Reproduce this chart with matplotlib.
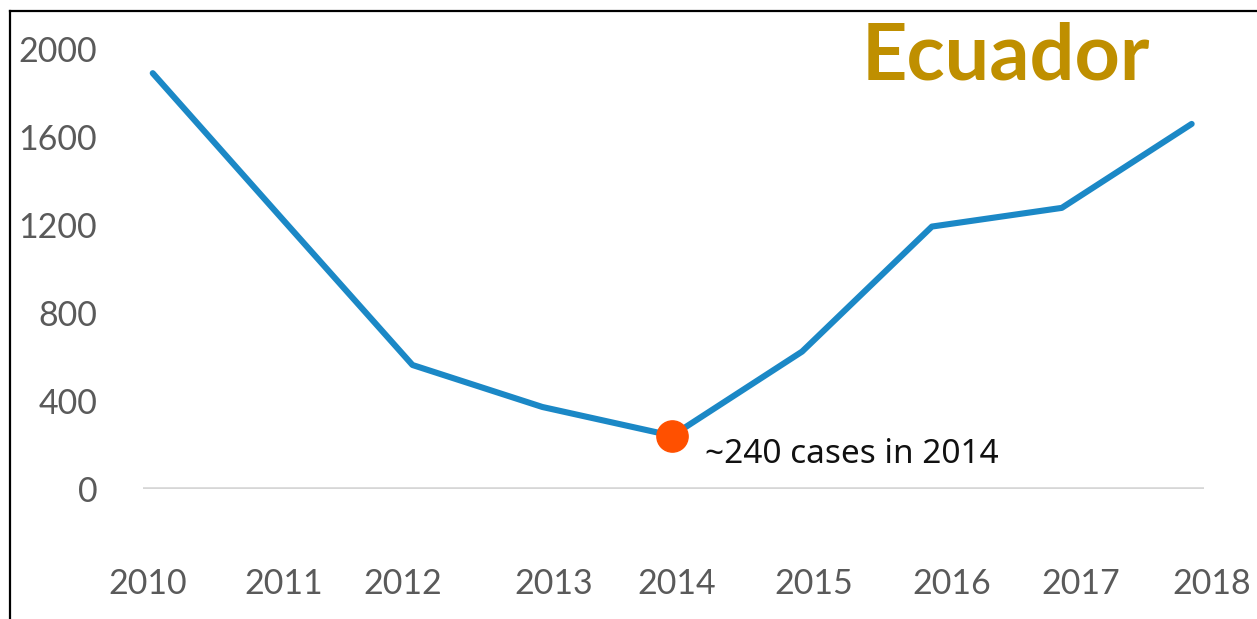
import matplotlib
matplotlib.use("Agg")
import matplotlib.pyplot as plt
from matplotlib.lines import Line2D
from matplotlib.transforms import ScaledTranslation

# Reported cases per year
years = [2010, 2011, 2012, 2013, 2014, 2015, 2016, 2017, 2018]
cases = [1890, 1225, 562, 371, 240, 623, 1192, 1277, 1659]
year_labels = ["2010", "2011", "2012", "2013", "2014", "2015", "2016", "2017", "2018"]
y_ticks = [0, 400, 800, 1200, 1600, 2000]

highlight_year = 2014
highlight_value = 240
title_text = "Ecuador"
note_text = "~240 cases in 2014"

# horizontal nudges (px) applied to the year labels
label_shift_px = [-5, 1, -10, 11, 4, 12, 20, 19, 20]

W, H, DPI = 1257, 619, 100
fig = plt.figure(figsize=(W / DPI, H / DPI), dpi=DPI)
fig.patch.set_facecolor("white")

ax = fig.add_axes([143 / W, 1 - 488.5 / H, (1204 - 143) / W, (488.5 - 49) / H])
ax.set_facecolor("white")

line_color = "#1B88C6"
dot_color = "#FF5000"
tick_color = "#5A5A5A"
tick_font = ["Lato", "DejaVu Sans"]

ax.plot(years, cases, color=line_color, lw=4.4, solid_capstyle="round",
        solid_joinstyle="round", clip_on=False, zorder=3)
ax.plot([highlight_year], [highlight_value], "o", color=dot_color, ms=22.5,
        mec=dot_color, clip_on=False, zorder=4)

ax.axhline(0, color="#D6D6D6", lw=2.6, zorder=1)

ax.set_xlim(2009.925, 2018.095)
ax.set_ylim(0, 2000)

for s in ax.spines.values():
    s.set_visible(False)

ax.set_yticks(y_ticks)
ax.set_yticklabels([str(v) for v in y_ticks])
ax.set_xticks(years)
ax.set_xticklabels(year_labels)
ax.tick_params(axis="both", length=0, colors=tick_color)
ax.tick_params(axis="y", pad=33)
ax.tick_params(axis="x", pad=57)
for lbl in ax.get_yticklabels() + ax.get_xticklabels():
    lbl.set_fontfamily(tick_font)
    lbl.set_fontweight("normal")
    lbl.set_fontsize(24.5)
    lbl.set_color(tick_color)
for lbl, dx in zip(ax.get_xticklabels(), label_shift_px):
    lbl.set_transform(lbl.get_transform() + ScaledTranslation(dx / DPI, 0, fig.dpi_scale_trans))

ax.annotate(note_text, xy=(highlight_year, highlight_value),
            xytext=(33 * 0.72, -27 * 0.72), textcoords="offset points",
            ha="left", va="baseline", fontsize=24, color="#111111",
            family=["Noto Sans", "DejaVu Sans"])

fig.text(862 / W, 1 - 80 / H, title_text, ha="left", va="baseline",
         fontsize=57, fontweight="bold", color="#BF8F00",
         family=["Lato", "DejaVu Sans"])

# frame lines along the top and left edges
fig.add_artist(Line2D([9.5 / W, 9.5 / W], [0, 1 - 11 / H], color="black", lw=1.6,
                      transform=fig.transFigure))
fig.add_artist(Line2D([9.5 / W, 1], [1 - 11 / H, 1 - 11 / H], color="black", lw=1.6,
                      transform=fig.transFigure))

fig.savefig("out.png", dpi=DPI, facecolor="white")
